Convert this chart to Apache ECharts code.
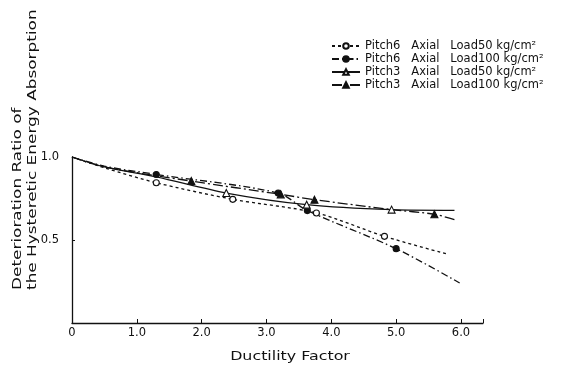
<!DOCTYPE html>
<html>
<head>
<meta charset="utf-8">
<script src="https://cdn.jsdelivr.net/npm/echarts@6/dist/echarts.min.js"></script>
<style>
html,body{margin:0;padding:0;background:#fff;}
#chart{width:562px;height:367px;}
</style>
</head>
<body>
<div id="chart"></div>
<script>
// ---- data ----
var seriesNames = [
  'Pitch6   Axial   Load50 kg/cm\u00b2',
  'Pitch6   Axial   Load100 kg/cm\u00b2',
  'Pitch3   Axial   Load50 kg/cm\u00b2',
  'Pitch3   Axial   Load100 kg/cm\u00b2'
];
// Pitch6, 50 kg/cm2 (dashed, open circles)
var p6l50X = [0, 0.5, 1.3, 2.48, 3.77, 4.82, 5.8];
var p6l50Y = [1.0, 0.935, 0.845, 0.745, 0.663, 0.522, 0.414];
var p6l50Measured = [0, 0, 1, 1, 1, 1, 0];
// Pitch6, 100 kg/cm2 (dash-dot, filled circles)
var p6l100X = [0, 0.5, 1.3, 3.18, 3.63, 5.0, 5.98];
var p6l100Y = [1.0, 0.945, 0.895, 0.783, 0.677, 0.448, 0.241];
var p6l100Measured = [0, 0, 1, 1, 1, 1, 0];
// Pitch3, 50 kg/cm2 (solid, open triangles)
var p3l50X = [0, 0.5, 1.3, 2.38, 3.62, 4.93, 5.9];
var p3l50Y = [1.0, 0.94, 0.88, 0.783, 0.713, 0.683, 0.679];
var p3l50Measured = [0, 0, 0, 1, 1, 1, 0];
// Pitch3, 100 kg/cm2 (long dash, filled triangles)
var p3l100X = [0, 0.5, 1.84, 3.22, 3.74, 4.93, 5.59, 5.93];
var p3l100Y = [1.0, 0.94, 0.855, 0.775, 0.743, 0.683, 0.655, 0.619];
var p3l100Measured = [0, 0, 1, 1, 1, 0, 1, 0];

var xTicks = [0, 1, 2, 3, 4, 5, 6];
var xTickLabels = ['0', '1.0', '2.0', '3.0', '4.0', '5.0', '6.0'];
var yTickLabels = {'0.5': '0.5', '1': '1.0'};

var xTitle = 'Ductility Factor';
var yTitle1 = 'Deterioration Ratio of';
var yTitle2 = 'the Hysteretic Energy Absorption';

// ---- build ----
function build(xs, ys, measured) {
  return xs.map(function (x, i) {
    var item = {value: [x, ys[i]]};
    if (!measured[i]) item.symbol = 'none';
    return item;
  });
}
var FONT = '"DejaVu Sans", "Liberation Sans", sans-serif';
var chart = echarts.init(document.getElementById('chart'), null, {renderer: 'canvas'});

function lineSeries(name, data, type, symbol, filled) {
  return {
    type: 'line',
    name: name,
    data: data,
    smooth: 0.3,
    symbol: symbol,
    symbolSize: symbol === 'triangle' ? 7 : 6,
    showSymbol: true,
    lineStyle: {color: '#111', width: 1.3, type: type},
    itemStyle: {color: filled ? '#111' : '#fff', borderColor: '#111', borderWidth: 1.1},
    emphasis: {disabled: true},
    animation: false,
    z: 3
  };
}

chart.setOption({
  backgroundColor: '#fff',
  animation: false,
  grid: {left: 72, right: 79, top: 157, bottom: 44, containLabel: false},
  legend: {
    left: 331,
    top: 40,
    orient: 'vertical',
    itemWidth: 28,
    itemHeight: 7,
    itemGap: 1,
    padding: 0,
    textStyle: {fontFamily: FONT, fontSize: 11.5, color: '#111', lineHeight: 12},
    data: seriesNames
  },
  xAxis: {
    type: 'value',
    min: 0,
    max: 6.34,
    interval: 1,
    axisLine: {lineStyle: {color: '#111', width: 1.3}},
    axisTick: {inside: true, length: 4, lineStyle: {color: '#111'}},
    splitLine: {show: false},
    axisLabel: {
      fontFamily: FONT, fontSize: 11.5, color: '#111', margin: 4,
      formatter: function (v) {
        var i = xTicks.indexOf(Math.round(v * 100) / 100);
        return i >= 0 ? xTickLabels[i] : '';
      }
    }
  },
  yAxis: {
    type: 'value',
    min: 0,
    max: 1.0,
    interval: 0.5,
    axisLine: {show: true, lineStyle: {color: '#111', width: 1.3}},
    axisTick: {inside: true, length: 3, lineStyle: {color: '#111'}},
    splitLine: {show: false},
    axisLabel: {
      fontFamily: FONT, fontSize: 11.5, color: '#111', margin: 13,
      formatter: function (v) {
        var k = String(Math.round(v * 10) / 10);
        return yTickLabels[k] || '';
      }
    }
  },
  graphic: [
    {type: 'text', x: 290, y: 357, scaleX: 1.27, style: {text: xTitle, fontFamily: FONT, fontSize: 12.5, fill: '#111', textAlign: 'center', textVerticalAlign: 'middle'}},
    {type: 'text', x: 18, y: 290, rotation: Math.PI / 2, scaleX: 1.3, style: {text: yTitle1, fontFamily: FONT, fontSize: 13, fill: '#111', textAlign: 'left', textVerticalAlign: 'middle'}},
    {type: 'text', x: 33, y: 290, rotation: Math.PI / 2, scaleX: 1.3, style: {text: yTitle2, fontFamily: FONT, fontSize: 13, fill: '#111', textAlign: 'left', textVerticalAlign: 'middle'}}
  ],
  series: [
    lineSeries(seriesNames[0], build(p6l50X, p6l50Y, p6l50Measured), [3, 3], 'circle', false),
    lineSeries(seriesNames[1], build(p6l100X, p6l100Y, p6l100Measured), [7, 3, 1.5, 3], 'circle', true),
    lineSeries(seriesNames[2], build(p3l50X, p3l50Y, p3l50Measured), 'solid', 'triangle', false),
    lineSeries(seriesNames[3], build(p3l100X, p3l100Y, p3l100Measured), [10, 3, 2, 3], 'triangle', true)
  ]
});
</script>
</body>
</html>
